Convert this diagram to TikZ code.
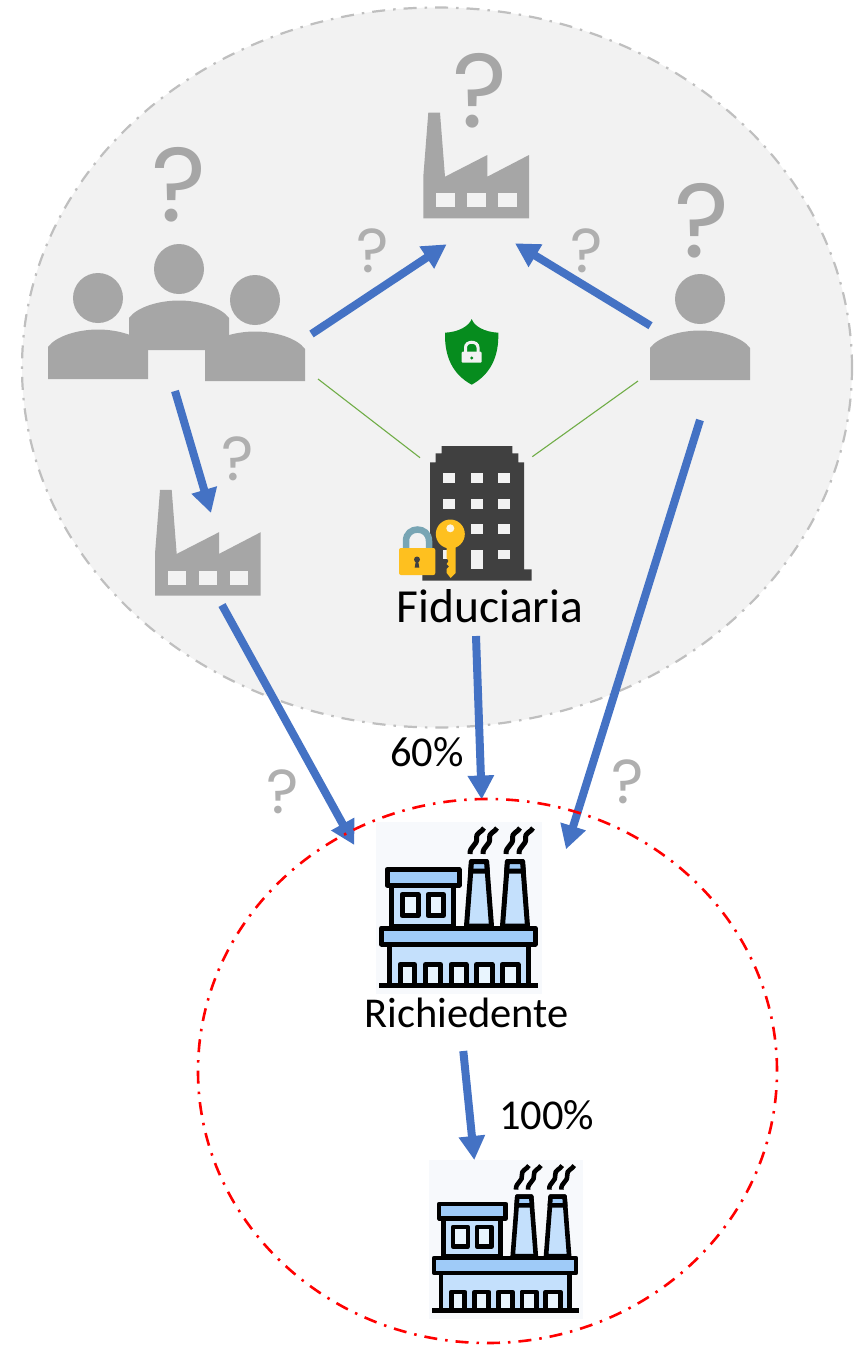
\documentclass[tikz,border=0pt]{standalone}
\usepackage{fontspec}
\setmainfont{Carlito}
\newfontfamily\qfont{Poppins}
\usetikzlibrary{arrows.meta}
\definecolor{arrowblue}{HTML}{4472C4}
\definecolor{icongray}{HTML}{A6A6A6}
\definecolor{qgray}{HTML}{AFAFAF}
\definecolor{zonegray}{HTML}{F2F2F2}
\definecolor{zoneline}{HTML}{BFBFBF}
\definecolor{linkgreen}{HTML}{70AD47}
\definecolor{shieldgreen}{HTML}{068C1E}
\definecolor{bldg}{HTML}{404040}
\definecolor{lockgold}{HTML}{FEC01F}
\definecolor{shackle}{HTML}{78A5B4}
\definecolor{iconbg}{HTML}{F7F9FC}
\definecolor{band}{HTML}{9FCBF8}
\definecolor{wall}{HTML}{C4E0FC}
\definecolor{pane}{HTML}{E9F5FE}
\tikzset{
  x=1pt,y=-1pt,
  flow/.style={draw=arrowblue,line width=8pt,-{Triangle[length=24pt,width=25pt]}},
  link/.style={draw=linkgreen,line width=1.1pt},
  zone/.style={line width=2.2pt,dash pattern=on 13pt off 8pt on 2.5pt off 8pt},
  label/.style={inner sep=0pt,anchor=base,font=\fontsize{42.5pt}{48pt}\selectfont},
  bigq/.style={inner sep=0pt,text=icongray,font=\qfont\fontsize{105pt}{110pt}\selectfont},
  smallq/.style={inner sep=0pt,text=qgray,font=\qfont\fontsize{62pt}{66pt}\selectfont},
  ink/.style={draw=black,line width=5pt,line join=round},
  person/.pic={
    \fill[icongray] (50,-81) circle[radius=25pt];
    \fill[icongray] (0,0) -- (0,-32) .. controls (8,-43) and (30,-49.5) .. (50,-49.5)
      .. controls (70,-49.5) and (92,-43) .. (100,-32) -- (100,0) -- cycle;
  },
  grayplant/.pic={
    \fill[icongray] (0,0) -- (0,-41.6) -- (5,-105.6) -- (16.7,-105.6) -- (21.7,-41.6)
      -- (64,-63.3) -- (64,-41.6) -- (105.7,-63.3) -- (105.7,0) -- cycle;
    \fill[zonegray] (12.7,-25) rectangle (31.4,-11);
    \fill[zonegray] (43.7,-25) rectangle (62.4,-11);
    \fill[zonegray] (74.7,-25) rectangle (93.4,-11);
  },
  colorplant/.pic={
    \fill[iconbg] (0,0) rectangle (166,172);
    \foreach \dx in {0,36}{
      \begin{scope}[xshift=\dx pt]
        \filldraw[ink,fill=wall] (90.5,104) -- (95.5,39.5) -- (110.5,39.5) -- (115.5,104) -- cycle;
        \filldraw[ink,fill=band] (95.5,39.5) -- (110.5,39.5) -- (111.3,49) -- (94.7,49) -- cycle;
        \draw[ink] (94,32) .. controls (93.5,24) and (102,23) .. (100.5,16) .. controls (99.5,11) and (106,10) .. (108,6);
        \draw[ink] (107,32) .. controls (106.5,24) and (115,23) .. (113.5,16) .. controls (112.5,11) and (119,10) .. (121,6);
      \end{scope}
    }
    \filldraw[ink,fill=wall] (15.7,63) rectangle (77,104);
    \filldraw[ink,fill=band] (11,47.5) rectangle (83,63);
    \filldraw[ink,fill=pane] (26,72.5) rectangle (42,93.5);
    \filldraw[ink,fill=pane] (52,72.5) rectangle (67.5,93.5);
    \filldraw[ink,fill=wall] (13,122) rectangle (152,163);
    \filldraw[ink,fill=band] (5.5,106) rectangle (159,122);
    \foreach \a/\b in {24/38.5,49.5/64.5,75/90,100.5/116,126/142}{
      \filldraw[ink,fill=pane] (\a,163) -- (\a,142.5) -- (\b,142.5) -- (\b,163);
    }
    \draw[ink,line join=miter] (3.3,163) -- (162,163);
  }
}
\begin{document}
\begin{tikzpicture}
\useasboundingbox (0,0) rectangle (858,1345);
\path[fill=zonegray,draw=zoneline,zone] (437,367.5) ellipse[x radius=415pt,y radius=360pt];

\pic (grpL) at (48,379) {person};
\pic (grpR) at (205,381) {person};
\pic (grpM) at (129,350) {person};
\pic (single) at (650,380) {person};
\pic (plantTop) at (423.3,218.3) {grayplant};
\pic (plantLeft) at (155,595.5) {grayplant};

\node[bigq] (qGroup) at (179,184.5) {?};
\node[bigq] (qPlant) at (479.7,91) {?};
\node[bigq] (qPerson) at (702.5,220.5) {?};
\node[smallq] (qA) at (372.7,250.5) {?};
\node[smallq] (qB) at (586.7,250.5) {?};
\node[smallq] (qC) at (238,459) {?};
\node[smallq] (qD) at (282.3,791.3) {?};
\node[smallq] (qE) at (627.7,782) {?};

\fill[shieldgreen] (471.7,319) .. controls (474,326) and (484,332) .. (498.3,332.7)
  .. controls (499,356) and (491,374) .. (471.7,384.7)
  .. controls (452,374) and (444.5,356) .. (445,332.7)
  .. controls (459,332) and (469,326) .. (471.7,319) -- cycle;
\fill[zonegray,rounded corners=1pt] (461.7,351.7) rectangle (481.7,362.7);
\draw[zonegray,line width=3pt] (465.5,352) -- (465.5,347.5) .. controls (465.5,340.5) and (478,340.5) .. (478,347.5) -- (478,352);
\fill[shieldgreen] (471.7,358) circle[radius=1.6pt];

\fill[bldg] (441.7,446) -- (512.3,446) -- (512.3,453.3) -- (518.3,453.3) -- (518.3,462.3)
  -- (524,462.3) -- (524,569.3) -- (531.7,569.3) -- (531.7,580.7) -- (422.3,580.7)
  -- (422.3,569.3) -- (430,569.3) -- (430,462.3) -- (435.7,462.3) -- (435.7,453.3)
  -- (441.7,453.3) -- cycle;
\foreach \a/\b in {443.3/455.3,471/482.7,498.3/510}{
  \foreach \c/\d in {473.3/483.3,499/509,524.3/534.3}{
    \fill[zonegray] (\a,\c) rectangle (\b,\d);
  }
}
\fill[zonegray] (443.3,550) rectangle (455.3,559.3);
\fill[zonegray] (471,550) rectangle (482.7,569.3);
\fill[zonegray] (498.3,550) rectangle (510,559.3);

\draw[shackle,line width=6.5pt] (406,549) -- (406,541) .. controls (406,525.7) and (429,525.7) .. (429,541) -- (429,549);
\fill[lockgold,rounded corners=2pt] (399,548) rectangle (435.3,575);
\fill[bldg] (417,559.5) circle[radius=3pt];
\fill[bldg] (416,560) -- (418,560) -- (419.3,567.7) -- (414.7,567.7) -- cycle;
\fill[lockgold] (450.3,534) circle[radius=14.5pt];
\fill[lockgold] (446.7,545) -- (455.7,545) -- (455.7,573) -- (450.7,578) -- (446.7,573)
  -- (446.7,569) -- (449,566.5) -- (446.7,564) -- (448.5,561) -- (446.7,558) -- cycle;
\fill[zonegray!60!lockgold!30!white] (450.3,528.3) circle[radius=4pt];

\node[label,font=\fontsize{47.5pt}{52pt}\selectfont] (fid) at (490,622.7) {Fiduciaria};
\node[label] (ric) at (466.5,1027) {Richiedente};
\node[label] (p60) at (427,766) {60\%};
\node[label] (p100) at (546.5,1129.3) {100\%};

\coordinate (groupEast) at (311.5,334);
\coordinate (plantTopSW) at (446.7,244.3);
\coordinate (personWest) at (650.5,325.7);
\coordinate (plantTopSE) at (515,243.3);
\coordinate (groupSouth) at (175,391);
\coordinate (plantLeftN) at (211,513);
\coordinate (plantLeftS) at (222,605);
\coordinate (richNW) at (354.3,845);
\coordinate (fidSouth) at (476,636);
\coordinate (richN) at (481.7,799.5);
\coordinate (personSouth) at (700,420);
\coordinate (richNE) at (566,849.3);
\coordinate (richS) at (463.3,1051);
\coordinate (subN) at (474.3,1160);
\coordinate (groupSE) at (318,379);
\coordinate (bldgNW) at (420,457.7);
\coordinate (personSW) at (638,381);
\coordinate (bldgNE) at (532.3,456.7);

\draw[link] (groupSE) -- (bldgNW);
\draw[link] (personSW) -- (bldgNE);
\draw[flow] (groupEast) -- (plantTopSW);
\draw[flow] (personWest) -- (plantTopSE);
\draw[flow] (groupSouth) -- (plantLeftN);
\draw[flow] (plantLeftS) -- (richNW);
\draw[flow] (fidSouth) -- (richN);
\draw[flow] (personSouth) -- (richNE);

\pic (plantRich) at (376,822) {colorplant};
\begin{scope}[ink/.style={draw=black,line width=4.6pt,line join=round}]
\pic[scale=0.925] (plantSub) at (429,1160) {colorplant};
\end{scope}
\draw[flow] (richS) -- (subN);

\path[draw=red,zone,line width=2.6pt] (487.5,1071) ellipse[x radius=289.5pt,y radius=272pt];
\end{tikzpicture}
\end{document}
